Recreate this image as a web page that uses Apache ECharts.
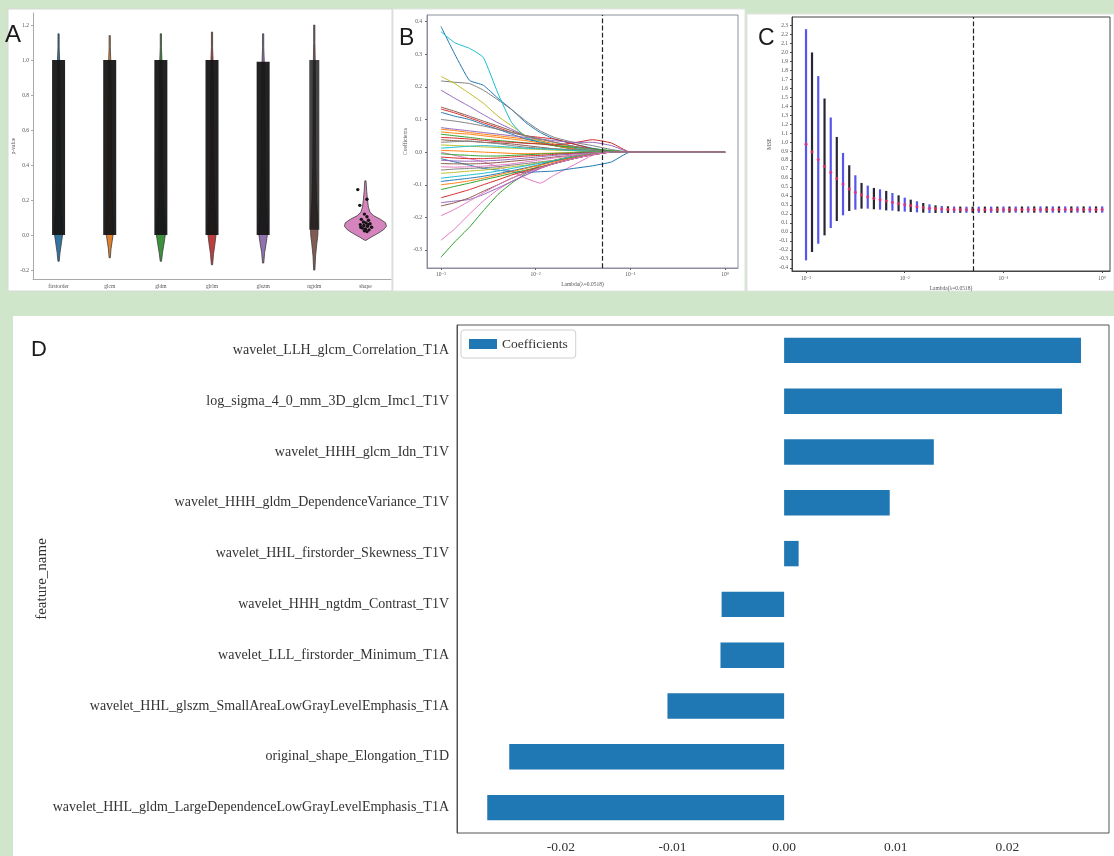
<!DOCTYPE html>
<html lang="en">
<head>
<meta charset="utf-8" />
<title>Radiomics feature selection</title>
<style>
    html, body { margin: 0; padding: 0; background: #cfe6ca; overflow: hidden; }
    #main { width: 1114px; height: 856px; }
</style>
</head>
<body>
<div id="main"></div>
<script src="https://cdn.jsdelivr.net/npm/echarts@6/dist/echarts.min.js"></script>
<script>
// ---------- A: p-values per feature class (violin + points) ----------
var featureClasses = ['firstorder', 'glcm', 'gldm', 'glrlm', 'glszm', 'ngtdm', 'shape'];
// [p-value, relative density]
var violinFirstorder = [[-0.15, 0], [-0.1, 0.35], [-0.05, 0.65], [0, 0.95], [0.05, 1], [0.1, 0.85], [0.2, 0.6], [0.4, 0.45], [0.6, 0.4], [0.8, 0.35], [1.0, 0.25], [1.07, 0.1], [1.15, 0]];
var violinGlcm = [[-0.13, 0], [-0.08, 0.3], [-0.04, 0.55], [0, 0.8], [0.05, 0.9], [0.1, 0.8], [0.2, 0.6], [0.4, 0.45], [0.6, 0.4], [0.8, 0.35], [1.0, 0.25], [1.07, 0.1], [1.14, 0]];
var violinGldm = [[-0.15, 0], [-0.1, 0.4], [-0.05, 0.75], [0, 1.05], [0.05, 1.1], [0.1, 0.9], [0.2, 0.6], [0.4, 0.45], [0.6, 0.4], [0.8, 0.35], [1.0, 0.25], [1.07, 0.1], [1.15, 0]];
var violinGlrlm = [[-0.17, 0], [-0.11, 0.35], [-0.05, 0.7], [0, 0.95], [0.05, 1], [0.1, 0.85], [0.2, 0.6], [0.4, 0.45], [0.6, 0.4], [0.8, 0.35], [1.0, 0.25], [1.07, 0.1], [1.16, 0]];
var violinGlszm = [[-0.16, 0], [-0.1, 0.35], [-0.05, 0.7], [0, 1], [0.05, 1.05], [0.1, 0.85], [0.2, 0.6], [0.4, 0.45], [0.6, 0.4], [0.8, 0.35], [1.0, 0.25], [1.07, 0.1], [1.15, 0]];
var violinNgtdm = [[-0.2, 0], [-0.12, 0.3], [-0.05, 0.6], [0, 0.85], [0.05, 0.9], [0.1, 0.8], [0.2, 0.55], [0.4, 0.35], [0.6, 0.3], [0.8, 0.28], [1.0, 0.22], [1.1, 0.1], [1.2, 0]];
var violinShape = [[-0.03, 0], [-0.01, 1.5], [0.01, 3], [0.03, 4.3], [0.05, 5], [0.07, 4.8], [0.09, 3.6], [0.11, 2], [0.13, 1.1], [0.16, 0.7], [0.2, 0.5], [0.25, 0.3], [0.31, 0]];
var violinProfiles = [violinFirstorder, violinGlcm, violinGldm, violinGlrlm, violinGlszm, violinNgtdm, violinShape];
// range covered by the dense cloud of jittered points
var pointLow = [0, 0, 0, 0, 0, 0.03, null];
var pointHigh = [1.0, 1.0, 1.0, 1.0, 0.99, 1.0, null];
// the few shape points: [jitter (fraction of band), p-value]
var shapePoints = [[-0.15, 0.26], [0.03, 0.205], [-0.11, 0.17], [-0.02, 0.12], [0.03, 0.105], [-0.08, 0.09], [0.06, 0.085], [-0.04, 0.075], [0.01, 0.07],
    [0.09, 0.065], [-0.1, 0.06], [-0.03, 0.055], [0.04, 0.05], [0.12, 0.045], [-0.06, 0.04], [0.0, 0.035], [0.07, 0.03], [-0.02, 0.025], [0.03, 0.02], [-0.09, 0.045], [0.05, 0.06]];

// ---------- B: lasso coefficient paths ----------
var lassoLambdas = [0.001, 0.0014, 0.002, 0.0028, 0.004, 0.0056, 0.0079, 0.0112, 0.0158, 0.0251, 0.0398, 0.0631, 0.1, 1.0];
var lassoPaths = [
    [0.385, 0.3, 0.22, 0.205, 0.165, 0.13, 0.09, 0.06, 0.04, 0.025, 0.012, 0.003, 0, 0],
    [0.07, 0.066, 0.06, 0.055, 0.05, 0.045, 0.04, 0.035, 0.025, 0.015, 0.005, 0, 0, 0],
    [-0.322, -0.275, -0.23, -0.18, -0.13, -0.095, -0.065, -0.04, -0.025, -0.012, -0.004, 0, 0, 0],
    [0.132, 0.12, 0.105, 0.09, 0.075, 0.06, 0.05, 0.045, 0.04, 0.025, 0.01, 0, 0, 0],
    [0.19, 0.165, 0.14, 0.115, 0.09, 0.07, 0.05, 0.035, 0.02, 0.01, 0.003, 0, 0, 0],
    [0.138, 0.125, 0.11, 0.095, 0.08, 0.065, 0.05, 0.04, 0.03, 0.018, 0.01, 0.002, 0, 0],
    [-0.27, -0.235, -0.19, -0.15, -0.115, -0.09, -0.07, -0.05, -0.035, -0.02, -0.008, 0, 0, 0],
    [0.218, 0.214, 0.21, 0.19, 0.16, 0.13, 0.095, 0.065, 0.045, 0.03, 0.02, 0.008, 0, 0],
    [0.232, 0.21, 0.18, 0.15, 0.11, 0.08, 0.05, 0.035, 0.02, 0.008, 0, 0, 0, 0],
    [0.369, 0.335, 0.318, 0.29, 0.18, 0.09, 0.045, 0.03, 0.022, 0.012, 0.005, 0, 0, 0],
    [0.122, 0.11, 0.1, 0.085, 0.07, 0.055, 0.04, 0.03, 0.02, 0.01, 0, 0, 0, 0],
    [0.062, 0.058, 0.055, 0.05, 0.045, 0.04, 0.035, 0.028, 0.02, 0.01, 0, 0, 0, 0],
    [0.055, 0.05, 0.045, 0.04, 0.036, 0.032, 0.028, 0.025, 0.02, 0.015, 0.01, 0.005, 0, 0],
    [0.045, 0.043, 0.04, 0.036, 0.032, 0.03, 0.027, 0.025, 0.022, 0.028, 0.038, 0.028, 0, 0],
    [0.075, 0.07, 0.065, 0.06, 0.055, 0.05, 0.045, 0.04, 0.035, 0.03, 0.03, 0.02, 0, 0],
    [0.038, 0.035, 0.033, 0.03, 0.028, 0.025, 0.02, 0.015, 0.01, 0.005, 0, 0, 0, 0],
    [0.0, -0.01, -0.02, -0.03, -0.045, -0.06, -0.08, -0.095, -0.07, -0.04, -0.01, 0, 0, 0],
    [0.03, 0.032, 0.034, 0.03, 0.026, 0.02, 0.015, 0.012, 0.01, 0.008, 0.005, 0, 0, 0],
    [0.022, 0.02, 0.018, 0.016, 0.014, 0.012, 0.01, 0.008, 0.006, 0.004, 0.002, 0, 0, 0],
    [0.012, 0.015, 0.018, 0.02, 0.018, 0.015, 0.012, 0.01, 0.008, 0.005, 0.002, 0, 0, 0],
    [-0.02, -0.03, -0.04, -0.05, -0.055, -0.06, -0.062, -0.06, -0.058, -0.05, -0.042, -0.03, 0, 0],
    [0.005, 0.004, 0.002, 0, -0.002, -0.004, -0.005, -0.004, -0.003, -0.002, 0, 0, 0, 0],
    [-0.005, -0.008, -0.01, -0.012, -0.012, -0.01, -0.008, -0.006, -0.004, -0.002, 0, 0, 0, 0],
    [-0.015, -0.018, -0.02, -0.02, -0.018, -0.015, -0.012, -0.01, -0.007, -0.004, -0.002, 0, 0, 0],
    [-0.025, -0.027, -0.028, -0.027, -0.025, -0.022, -0.018, -0.014, -0.01, -0.006, -0.002, 0, 0, 0],
    [-0.035, -0.036, -0.036, -0.035, -0.032, -0.028, -0.024, -0.02, -0.015, -0.01, -0.005, 0, 0, 0],
    [-0.045, -0.046, -0.045, -0.043, -0.04, -0.036, -0.03, -0.024, -0.018, -0.01, -0.004, 0, 0, 0],
    [-0.055, -0.052, -0.05, -0.048, -0.045, -0.04, -0.035, -0.03, -0.025, -0.015, -0.006, 0, 0, 0],
    [-0.065, -0.062, -0.058, -0.055, -0.05, -0.045, -0.04, -0.032, -0.025, -0.015, -0.005, 0, 0, 0],
    [-0.08, -0.075, -0.07, -0.065, -0.058, -0.05, -0.042, -0.034, -0.026, -0.015, -0.005, 0, 0, 0],
    [-0.09, -0.085, -0.08, -0.074, -0.066, -0.057, -0.048, -0.038, -0.028, -0.016, -0.006, 0, 0, 0],
    [-0.1, -0.095, -0.088, -0.08, -0.07, -0.06, -0.05, -0.04, -0.03, -0.017, -0.006, 0, 0, 0],
    [-0.115, -0.105, -0.095, -0.085, -0.075, -0.065, -0.055, -0.045, -0.035, -0.02, -0.008, 0, 0, 0],
    [-0.14, -0.128, -0.115, -0.1, -0.085, -0.07, -0.058, -0.046, -0.034, -0.02, -0.008, 0, 0, 0],
    [-0.155, -0.15, -0.145, -0.13, -0.11, -0.09, -0.07, -0.05, -0.035, -0.02, -0.008, 0, 0, 0],
    [-0.165, -0.155, -0.14, -0.12, -0.1, -0.08, -0.062, -0.048, -0.035, -0.02, -0.008, 0, 0, 0],
    [-0.195, -0.175, -0.15, -0.125, -0.1, -0.08, -0.063, -0.048, -0.035, -0.02, -0.008, 0, 0, 0],
    [0.1, 0.095, 0.088, 0.08, 0.07, 0.06, 0.05, 0.04, 0.03, 0.018, 0.008, 0, 0, 0]
];
var bestLambda = 0.0518;

// ---------- C: cross-validated MSE ----------
var cvLambdas = [0.001, 0.00115, 0.00133, 0.00154, 0.00178, 0.00205, 0.00237, 0.00274, 0.00316, 0.00365, 0.00422, 0.00487, 0.00562, 0.00649, 0.0075, 0.00866,
    0.01, 0.0115, 0.0133, 0.0154, 0.0178, 0.0205, 0.0237, 0.0274, 0.0316, 0.0365, 0.0422, 0.0487, 0.0562, 0.0649, 0.075, 0.0866,
    0.1, 0.115, 0.133, 0.154, 0.178, 0.205, 0.237, 0.274, 0.316, 0.365, 0.422, 0.487, 0.562, 0.649, 0.75, 0.866, 1.0];
var cvMean = [0.976, 0.890, 0.805, 0.730, 0.664, 0.594, 0.534, 0.479, 0.442, 0.412, 0.390, 0.375, 0.360, 0.345, 0.330, 0.316,
    0.305, 0.293, 0.282, 0.271, 0.264, 0.260, 0.255, 0.252, 0.250, 0.249, 0.248, 0.248, 0.248, 0.248, 0.248, 0.249,
    0.249, 0.249, 0.249, 0.250, 0.250, 0.250, 0.250, 0.250, 0.250, 0.250, 0.250, 0.250, 0.250, 0.250, 0.250, 0.250, 0.250];
var cvLow = [-0.315, -0.222, -0.130, -0.037, 0.045, 0.123, 0.186, 0.234, 0.249, 0.260, 0.260, 0.253, 0.249, 0.241, 0.238, 0.230,
    0.227, 0.223, 0.219, 0.215, 0.212, 0.212, 0.212, 0.213, 0.213, 0.214, 0.214, 0.214, 0.214, 0.214, 0.214, 0.214,
    0.215, 0.215, 0.215, 0.215, 0.215, 0.215, 0.215, 0.215, 0.215, 0.215, 0.215, 0.215, 0.215, 0.215, 0.215, 0.215, 0.215];
var cvHigh = [2.255, 1.996, 1.733, 1.484, 1.273, 1.057, 0.879, 0.742, 0.631, 0.546, 0.516, 0.490, 0.475, 0.457, 0.434, 0.408,
    0.382, 0.360, 0.342, 0.323, 0.308, 0.297, 0.290, 0.286, 0.284, 0.283, 0.282, 0.282, 0.282, 0.283, 0.283, 0.283,
    0.284, 0.284, 0.284, 0.284, 0.285, 0.285, 0.285, 0.285, 0.285, 0.285, 0.285, 0.285, 0.285, 0.285, 0.285, 0.285, 0.285];

// ---------- D: selected features ----------
var featureNames = [
    'wavelet_LLH_glcm_Correlation_T1A',
    'log_sigma_4_0_mm_3D_glcm_Imc1_T1V',
    'wavelet_HHH_glcm_Idn_T1V',
    'wavelet_HHH_gldm_DependenceVariance_T1V',
    'wavelet_HHL_firstorder_Skewness_T1V',
    'wavelet_HHH_ngtdm_Contrast_T1V',
    'wavelet_LLL_firstorder_Minimum_T1A',
    'wavelet_HHL_glszm_SmallAreaLowGrayLevelEmphasis_T1A',
    'original_shape_Elongation_T1D',
    'wavelet_HHL_gldm_LargeDependenceLowGrayLevelEmphasis_T1A'
];
var coefficients = [0.02659, 0.02489, 0.01341, 0.00946, 0.0013, -0.0056, -0.0057, -0.01045, -0.02462, -0.02659];

// ---------- styles ----------
var violinColors = ['#3274a1', '#e1812c', '#3a923a', '#c03d3e', '#9372b2', '#845b53', '#d684bd'];
var tab10 = ['#1f77b4', '#ff7f0e', '#2ca02c', '#d62728', '#9467bd', '#8c564b', '#e377c2', '#7f7f7f', '#bcbd22', '#17becf'];
var SERIF = '"Liberation Serif", "DejaVu Serif", serif';
var SANS = '"Liberation Sans", Arial, sans-serif';
var VIOLIN_PX = 4.2;

var supMap = { '-': '\u207b', '0': '\u2070', '1': '\u00b9', '2': '\u00b2', '3': '\u00b3' };
function powLabel(v) {
    var e = String(Math.round(Math.log10(v)));
    var s = '';
    for (var k = 0; k < e.length; k++) s += supMap[e[k]];
    return '10' + s;
}
function fix(d) {
    return function (v) { return Math.abs(v) < 1e-9 ? (0).toFixed(d) : v.toFixed(d); };
}

var myChart = echarts.init(document.getElementById('main'));

var series = [];

// A: violins
series.push({
    type: 'custom', xAxisIndex: 0, yAxisIndex: 0, z: 2,
    data: featureClasses.map(function (c, i) { return [i]; }),
    renderItem: function (params, api) {
        var i = api.value(0);
        var prof = violinProfiles[i];
        var cx = api.coord([i, 0])[0];
        var right = [], left = [];
        for (var k = 0; k < prof.length; k++) {
            var y = api.coord([i, prof[k][0]])[1];
            var w = Math.max(prof[k][1] * VIOLIN_PX, 0.6);
            right.push([cx + w, y]);
            left.unshift([cx - w, y]);
        }
        return {
            type: 'polygon',
            shape: { points: right.concat(left) },
            style: { fill: violinColors[i], stroke: '#3c3c3c', lineWidth: 0.8 }
        };
    }
});
// A: dense point clouds
series.push({
    type: 'custom', xAxisIndex: 0, yAxisIndex: 0, z: 3,
    data: pointLow.map(function (lo, i) { return [i, lo, pointHigh[i]]; }).filter(function (d) { return d[1] !== null; }),
    renderItem: function (params, api) {
        var i = api.value(0);
        var top = api.coord([i, api.value(2)]);
        var bot = api.coord([i, api.value(1)]);
        var half = i === 5 ? 5 : 6.5;
        return {
            type: 'rect',
            shape: { x: top[0] - half, y: top[1], width: half * 2, height: bot[1] - top[1] },
            style: { fill: '#161616', opacity: i === 5 ? 0.8 : 0.95 }
        };
    }
});
// A: shape points
series.push({
    type: 'custom', xAxisIndex: 0, yAxisIndex: 0, z: 4,
    data: shapePoints.map(function (p) { return [6, p[0], p[1]]; }),
    renderItem: function (params, api) {
        var c = api.coord([api.value(0), api.value(2)]);
        var bw = api.size([1, 0])[0];
        return { type: 'circle', shape: { cx: c[0] + api.value(1) * bw, cy: c[1], r: 1.7 }, style: { fill: '#141414' } };
    }
});

// B: lasso paths
lassoPaths.forEach(function (path, idx) {
    var s = {
        type: 'line', xAxisIndex: 1, yAxisIndex: 1,
        data: path.map(function (v, k) { return [lassoLambdas[k], v]; }),
        showSymbol: false, smooth: 0.15, silent: true,
        lineStyle: { width: 1, color: tab10[idx % 10] },
        itemStyle: { color: tab10[idx % 10] }
    };
    if (idx === lassoPaths.length - 1) {
        s.markLine = {
            symbol: 'none', silent: true, label: { show: false },
            lineStyle: { type: 'dashed', color: '#222', width: 1.2 },
            data: [{ xAxis: bestLambda }]
        };
    }
    series.push(s);
});

// C: error bars
series.push({
    type: 'custom', xAxisIndex: 2, yAxisIndex: 2, z: 3,
    data: cvLambdas.map(function (l, k) { return [l, cvLow[k], cvHigh[k]]; }),
    renderItem: function (params, api) {
        var lo = api.coord([api.value(0), api.value(1)]);
        var hi = api.coord([api.value(0), api.value(2)]);
        return {
            type: 'line',
            shape: { x1: lo[0], y1: lo[1], x2: hi[0], y2: hi[1] },
            style: { stroke: params.dataIndex % 2 === 0 ? '#5656ee' : '#262636', lineWidth: 2.2 }
        };
    },
    markLine: {
        symbol: 'none', silent: true, label: { show: false },
        lineStyle: { type: 'dashed', color: '#222', width: 1.2 },
        data: [{ xAxis: bestLambda }]
    }
});
series.push({
    type: 'scatter', xAxisIndex: 2, yAxisIndex: 2, z: 4,
    data: cvLambdas.map(function (l, k) { return [l, cvMean[k]]; }),
    symbol: 'circle', symbolSize: 3.2, silent: true,
    itemStyle: { color: '#f0306a' }
});

// D: coefficients
series.push({
    name: 'Coefficients', type: 'bar', xAxisIndex: 3, yAxisIndex: 3,
    data: coefficients, barWidth: '50%',
    itemStyle: { color: '#1f77b4' }
});

var tinyLabel = { fontFamily: SERIF, fontSize: 5.5, color: '#555' };

var option = {
    animation: false,
    backgroundColor: '#cfe6ca',
    graphic: [
        { type: 'rect', z: -10, shape: { x: 8, y: 9, width: 384, height: 282 }, style: { fill: '#fff', stroke: '#d8d8d8', lineWidth: 1 } },
        { type: 'rect', z: -10, shape: { x: 393, y: 9, width: 352, height: 282 }, style: { fill: '#fff', stroke: '#e2e2e2', lineWidth: 1 } },
        { type: 'rect', z: -10, shape: { x: 747, y: 14, width: 367, height: 277 }, style: { fill: '#fff', stroke: '#e2e2e2', lineWidth: 1 } },
        { type: 'rect', z: -10, shape: { x: 13, y: 316, width: 1101, height: 540 }, style: { fill: '#fff' } },
        { type: 'text', z: 10, style: { text: 'A', x: 5, y: 23, font: '24px ' + SANS, fill: '#1a1a1a' } },
        { type: 'text', z: 10, style: { text: 'B', x: 399, y: 27, font: '23px ' + SANS, fill: '#1a1a1a' } },
        { type: 'text', z: 10, style: { text: 'C', x: 758, y: 27, font: '23px ' + SANS, fill: '#1a1a1a' } },
        { type: 'text', z: 10, style: { text: 'D', x: 31, y: 339, font: '22px ' + SANS, fill: '#1a1a1a' } }
    ],
    legend: {
        data: ['Coefficients'], left: 461, top: 330, icon: 'rect',
        itemWidth: 28, itemHeight: 10, padding: [7, 8, 7, 8],
        backgroundColor: '#fff', borderColor: '#cfcfcf', borderWidth: 1, borderRadius: 3,
        textStyle: { fontFamily: SERIF, fontSize: 13.5, color: '#333' }
    },
    grid: [
        { left: 33, top: 13, width: 358, height: 266 },
        { left: 427, top: 15, width: 311, height: 253, show: true, borderColor: '#8e8e9e', borderWidth: 1 },
        { left: 792, top: 17, width: 318, height: 254, show: true, borderColor: '#444', borderWidth: 1 },
        { left: 457, top: 325, width: 652, height: 508, show: true, borderColor: '#555', borderWidth: 1 }
    ],
    xAxis: [
        {
            gridIndex: 0, type: 'category', data: featureClasses,
            axisLine: { onZero: false, lineStyle: { color: '#aaa' } },
            axisTick: { length: 2, alignWithLabel: true, lineStyle: { color: '#aaa' } },
            axisLabel: Object.assign({ interval: 0, margin: 5 }, tinyLabel)
        },
        {
            gridIndex: 1, type: 'log', logBase: 10, min: 0.000713, max: 1.37,
            splitLine: { show: false },
            axisLine: { onZero: false, lineStyle: { color: '#8e8e9e' } },
            axisTick: { length: 2, lineStyle: { color: '#666' } },
            axisLabel: Object.assign({ margin: 4, showMinLabel: false, showMaxLabel: false, formatter: powLabel }, tinyLabel),
            name: 'Lambda(\u03bb=0.0518)', nameLocation: 'middle', nameGap: 14,
            nameTextStyle: tinyLabel
        },
        {
            gridIndex: 2, type: 'log', logBase: 10, min: 0.000721, max: 1.2,
            splitLine: { show: false },
            axisLine: { onZero: false, lineStyle: { color: '#444' } },
            axisTick: { length: 2, lineStyle: { color: '#444' } },
            axisLabel: Object.assign({ margin: 5, showMinLabel: false, showMaxLabel: false, formatter: powLabel }, tinyLabel),
            name: 'Lambda(\u03bb=0.0518)', nameLocation: 'middle', nameGap: 15,
            nameTextStyle: tinyLabel
        },
        {
            gridIndex: 3, type: 'value', min: -0.0293, max: 0.0291, splitNumber: 5,
            splitLine: { show: false },
            axisLine: { onZero: false, lineStyle: { color: '#555' } },
            axisTick: { length: 4, lineStyle: { color: '#555' } },
            axisLabel: { margin: 7, showMinLabel: false, showMaxLabel: false, formatter: fix(2), fontFamily: SERIF, fontSize: 13.5, color: '#333' }
        }
    ],
    yAxis: [
        {
            gridIndex: 0, type: 'value', min: -0.251, max: 1.269, splitNumber: 7,
            splitLine: { show: false },
            axisLine: { show: true, onZero: false, lineStyle: { color: '#aaa' } },
            axisTick: { show: true, length: 2, lineStyle: { color: '#aaa' } },
            axisLabel: Object.assign({ margin: 4, showMinLabel: false, showMaxLabel: false, formatter: fix(1) }, tinyLabel),
            name: 'p-value', nameLocation: 'middle', nameGap: 16, nameTextStyle: tinyLabel
        },
        {
            gridIndex: 1, type: 'value', min: -0.355, max: 0.42, splitNumber: 8,
            splitLine: { show: false },
            axisLine: { show: true, onZero: false, lineStyle: { color: '#8e8e9e' } },
            axisTick: { show: true, length: 2, lineStyle: { color: '#666' } },
            axisLabel: Object.assign({ margin: 5, showMinLabel: false, showMaxLabel: false, formatter: fix(1) }, tinyLabel),
            name: 'Coefficients', nameLocation: 'middle', nameGap: 18, nameTextStyle: tinyLabel
        },
        {
            gridIndex: 2, type: 'value', min: -0.433, max: 2.39, splitNumber: 28,
            splitLine: { show: false },
            axisLine: { show: true, onZero: false, lineStyle: { color: '#444' } },
            axisTick: { show: true, length: 2, lineStyle: { color: '#444' } },
            axisLabel: Object.assign({ margin: 4, showMinLabel: false, showMaxLabel: false, formatter: fix(1) }, tinyLabel),
            name: 'MSE', nameLocation: 'middle', nameGap: 19, nameTextStyle: tinyLabel
        },
        {
            gridIndex: 3, type: 'category', inverse: true, data: featureNames,
            axisLine: { onZero: false, lineStyle: { color: '#555' } },
            axisTick: { length: 4, alignWithLabel: true, lineStyle: { color: '#555' } },
            axisLabel: { interval: 0, margin: 8, fontFamily: SERIF, fontSize: 14, color: '#333' },
            name: 'feature_name', nameLocation: 'middle', nameGap: 407, nameMoveOverlap: false,
            nameTextStyle: { fontFamily: SERIF, fontSize: 15, color: '#333' }
        }
    ],
    series: series
};

myChart.setOption(option);
</script>
</body>
</html>
